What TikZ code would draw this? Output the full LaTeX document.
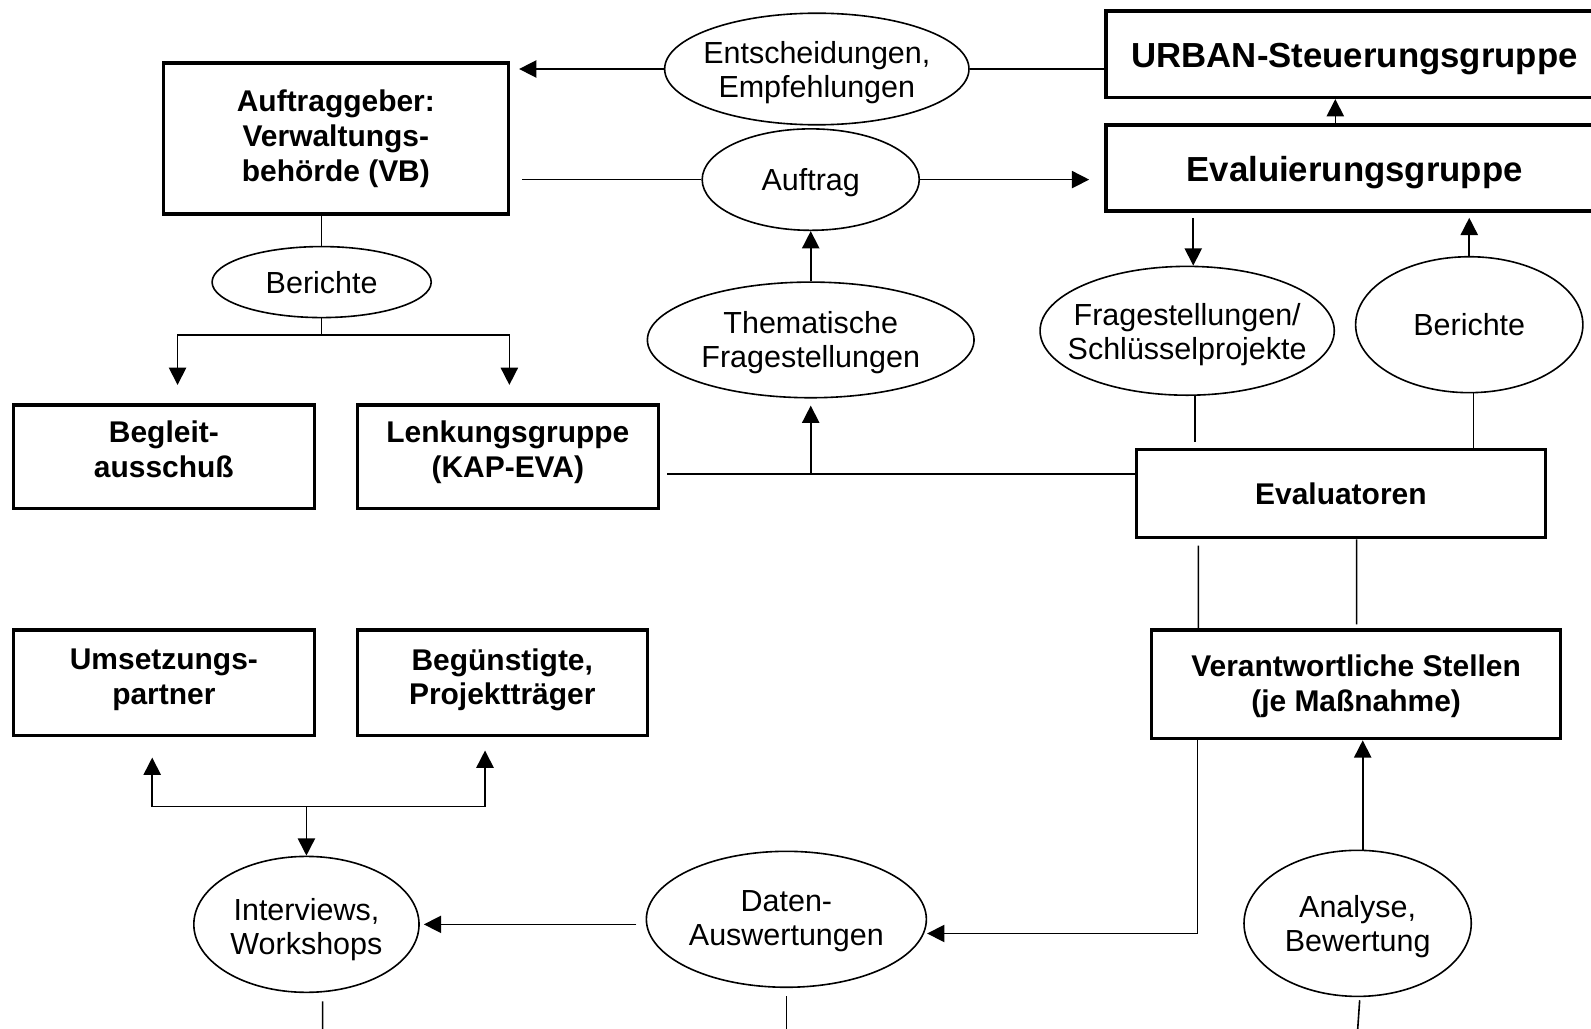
\documentclass[tikz,border=0pt]{standalone}
\usepackage{fontspec}
\setmainfont{Liberation Sans}
\usetikzlibrary{shapes.geometric,arrows.meta,calc}
\begin{document}
\begin{tikzpicture}[x=0.02cm,y=-0.02cm,
  box/.style={draw, line width=1.9pt, rectangle, inner sep=0pt},
  btxt/.style={align=center, font=\fontsize{16.8}{19.5}\selectfont\bfseries, inner sep=0pt},
  bigtxt/.style={btxt, font=\fontsize{19.5}{23}\selectfont\bfseries},
  ell/.style={draw, ellipse, line width=0.9pt, inner sep=0pt},
  lab/.style={align=center, font=\fontsize{17.1}{19.2}\selectfont, inner sep=0pt},
  conn/.style={line width=0.9pt},
  arr/.style={conn, -{Triangle[length=0.34cm, width=0.34cm]}},
]
\fill[white] (0,0) rectangle (1568,1014);
\clip (0,0) rectangle (1568,1014);

% boxes
\node[box, minimum width=6.8cm, minimum height=2.98cm] (vb) at (331,136.5) {};
\node[btxt] (vbt) at (vb.center) {Auftraggeber:\\Verwaltungs-\\behörde (VB)};
\node[box, minimum width=9.8cm, minimum height=1.7cm] (urban) at (1335,53.5) {};
\node[bigtxt, yshift=-0.1cm] (urbant) at (urban.center) {URBAN-Steuerungsgruppe};
\node[box, minimum width=9.8cm, minimum height=1.7cm] (evg) at (1335,165.5) {};
\node[bigtxt, yshift=-0.1cm] (evgt) at (evg.center) {Evaluierungsgruppe};
\node[box, minimum width=5.94cm, minimum height=2.04cm] (begleit) at (161.5,450) {};
\node[btxt, yshift=0.14cm] (begleitt) at (begleit.center) {Begleit-\\ausschuß};
\node[box, minimum width=5.94cm, minimum height=2.04cm] (lenk) at (500.5,450) {};
\node[btxt, yshift=0.08cm] (lenkt) at (lenk.center) {Lenkungsgruppe\\(KAP-EVA)};
\node[box, minimum width=8.06cm, minimum height=1.74cm] (evaluatoren) at (1321.5,486.5) {};
\node[btxt] (evaluatorent) at (evaluatoren.center) {Evaluatoren};
\node[box, minimum width=8.06cm, minimum height=2.14cm] (verant) at (1336.5,674.5) {};
\node[btxt, yshift=-0.04cm] (verantt) at (verant.center) {Verantwortliche Stellen\\(je Maßnahme)};
\node[box, minimum width=5.94cm, minimum height=2.08cm] (umsetz) at (161.5,673) {};
\node[btxt, yshift=0.06cm] (umsetzt) at (umsetz.center) {Umsetzungs-\\partner};
\node[box, minimum width=5.72cm, minimum height=2.08cm] (beguen) at (495,673) {};
\node[btxt, yshift=0.06cm] (beguent) at (beguen.center) {Begünstigte,\\Projektträger};

% ellipses
\node[ell, minimum width=6cm, minimum height=2.2cm] (ent) at (805,68) {};
\node[lab, yshift=-0.07cm] (entt) at (ent.center) {Entscheidungen,\\Empfehlungen};
\node[ell, minimum width=4.28cm, minimum height=2cm] (auftrag) at (799,177) {};
\node[lab, yshift=-0.06cm] (auftragt) at (auftrag.center) {Auftrag};
\node[ell, minimum width=4.32cm, minimum height=1.4cm] (ber1) at (317,278) {};
\node[lab, yshift=-0.02cm] (ber1t) at (ber1.center) {Berichte};
\node[ell, minimum width=6.44cm, minimum height=2.28cm] (them) at (799,335) {};
\node[lab, yshift=-0.06cm] (themt) at (them.center) {Thematische\\Fragestellungen};
\node[ell, minimum width=5.8cm, minimum height=2.54cm] (frag) at (1170,326) {};
\node[lab, yshift=-0.08cm] (fragt) at (frag.center) {Fragestellungen/\\Schlüsselprojekte};
\node[ell, minimum width=4.48cm, minimum height=2.68cm] (ber2) at (1448,320) {};
\node[lab] (ber2t) at (ber2.center) {Berichte};
\node[ell, minimum width=4.44cm, minimum height=2.68cm] (interv) at (302,911) {};
\node[lab, yshift=-0.1cm] (intervt) at (interv.center) {Interviews,\\Workshops};
\node[ell, minimum width=5.52cm, minimum height=2.68cm] (daten) at (775,906) {};
\node[lab, yshift=-0.04cm] (datent) at (daten.center) {Daten-\\Auswertungen};
\node[ell, minimum width=4.48cm, minimum height=2.88cm] (analyse) at (1338,910) {};
\node[lab, yshift=-0.07cm] (analyset) at (analyse.center) {Analyse,\\Bewertung};

% connectors
\draw[conn] (ent.east) -- (ent.east -| urban.west);
\draw[arr, shorten >=0.18cm] (ent.west) -- (ent.west -| vb.east);
\draw[conn, shorten >=0.24cm] (auftrag.west) -- (auftrag.west -| vb.east);
\draw[arr, shorten >=0.3cm] (auftrag.east) -- (auftrag.east -| evg.west);
\draw[arr] ([xshift=-0.38cm]evg.north) -- ([xshift=-0.38cm]urban.south);

\draw[conn] (ber1.north |- vb.south) -- (ber1.north);
\coordinate (s1) at (317,330);
\draw[conn] (ber1.south) -- (s1);
\draw[arr, shorten >=0.36cm] (s1) -| ([xshift=0.27cm]begleit.north);
\draw[arr, shorten >=0.36cm] (s1) -| ([xshift=0.03cm]lenk.north);

\coordinate (j1) at (799,467);
\draw[conn, shorten <=0.14cm] (lenk.east |- j1) -- (evaluatoren.west |- j1);
\draw[arr, shorten >=0.14cm] (j1) -- (them.south);
\draw[arr] (them.north) -- (auftrag.south);

\draw[arr, shorten <=0.1cm] ([xshift=0.12cm]evg.south -| frag.north) -- ([xshift=0.12cm]frag.north);
\draw[arr, shorten >=0.1cm] (ber2.north) -- (ber2.north |- evg.south);
\draw[conn, shorten >=0.12cm] ([xshift=0.16cm]frag.south) -- ([xshift=0.16cm]frag.south |- evaluatoren.north);
\draw[conn] ([xshift=0.08cm]ber2.south) -- ([xshift=0.08cm]ber2.south |- evaluatoren.north);

\draw[conn] ([xshift=-2.81cm,yshift=-0.12cm]evaluatoren.south) -- ([xshift=-3.11cm]verant.north);
\draw[conn] ([xshift=0.31cm]evaluatoren.south) -- ([xshift=0.01cm,yshift=0.08cm]verant.north);

\draw[arr] ([xshift=-3.13cm]verant.south) |- ([yshift=-0.28cm]daten.east);
\draw[arr] ([xshift=0.1cm]analyse.north) -- ([xshift=0.1cm]analyse.north |- verant.south);
\draw[arr, shorten <=0.18cm, shorten >=0.08cm] (interv.east -| daten.west) -- (interv.east);

\coordinate (s2) at (302,795);
\draw[arr] (s2) -- (interv.north);
\draw[arr, shorten >=0.4cm] (s2) -| ([xshift=-0.23cm]umsetz.south);
\draw[arr, shorten >=0.26cm] (s2) -| ([xshift=-0.34cm]beguen.south);

\coordinate (e1) at (318,1030);
\coordinate (e2) at (775,1030);
\coordinate (e3) at (1337,1030);
\draw[conn] ([xshift=0.32cm,yshift=-0.16cm]interv.south) -- (e1);
\draw[conn] ([yshift=-0.16cm]daten.south) -- (e2);
\draw[conn] ([xshift=0.04cm,yshift=-0.06cm]analyse.south) -- (e3);
\end{tikzpicture}
\end{document}
